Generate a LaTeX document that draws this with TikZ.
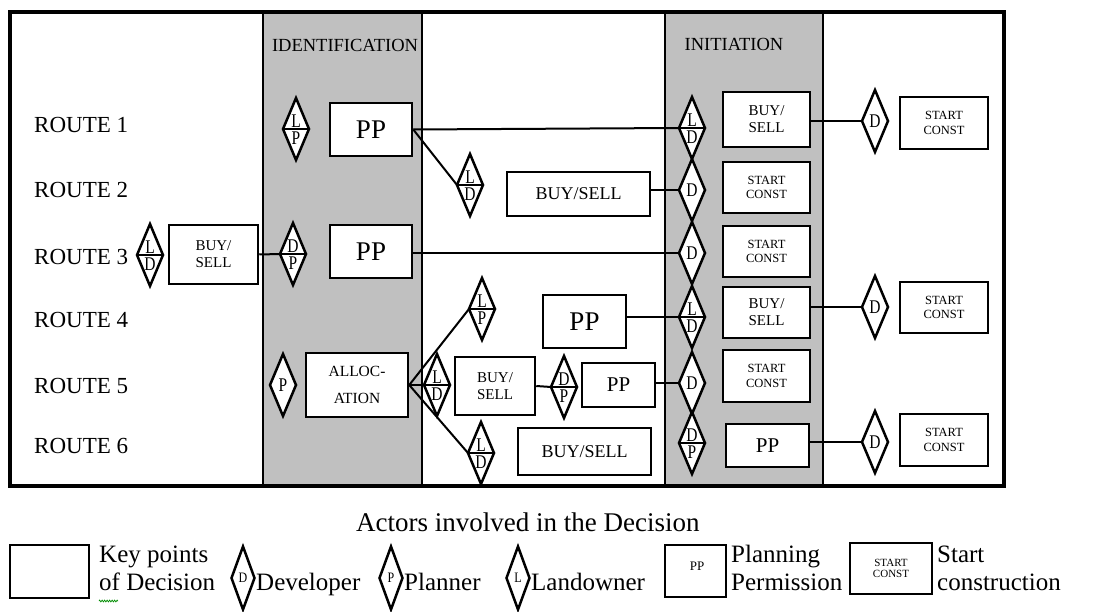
\documentclass[tikz,border=0pt]{standalone}
\usepackage{fontspec}
\setmainfont{Liberation Serif}
\usetikzlibrary{shapes.geometric,decorations.pathmorphing}
\definecolor{colgray}{RGB}{192,192,192}
\pgfdeclarelayer{back}
\pgfdeclarelayer{mid}
\pgfsetlayers{back,mid,main}

\newcommand\fs[2]{\fontsize{#1}{#2}\selectfont}

\tikzset{
  box/.style={draw, line width=2.5pt, fill=white, inner sep=0pt, align=center},
  actor/.style={diamond, draw, line width=2.5pt, fill=white, inner sep=0pt,
    outer sep=0pt, minimum width=26pt, minimum height=62pt},
  letter/.style={inner sep=0pt, font=\fs{15.5}{15.5}},
  link/.style={line width=2pt},
  route/.style={anchor=base west, inner sep=0pt, font=\fs{23}{23}},
  header/.style={inner sep=0pt, font=\fs{18.5}{18.5}},
  legendtext/.style={anchor=base west, inner sep=0pt, font=\fs{25}{28}},
}

% box by its corners: name, x1, y1, x2, y2, font, text
\newcommand\bx[7]{\node[box, minimum width={#4pt-#2pt}, minimum height={#5pt-#3pt},
  font=#6] (#1) at ({(#2+#4)/2},{(#3+#5)/2}) {#7};}
% diamond holding two actors: name, x, y, upper letter, lower letter
\newcommand\actorduo[5]{%
  \node[actor] (#1) at (#2,#3) {};
  \draw[line width=1.5pt] (#1.west) -- (#1.east);
  \node[letter, anchor=south] (#1-t) at ([yshift=1.5pt]#1.center) {\scalebox{1}[1.25]{#4}};
  \node[letter, anchor=north] (#1-b) at ([yshift=-3pt]#1.center) {\scalebox{1}[1.25]{#5}};}
% diamond holding one actor: name, x, y, letter
\newcommand\actorsolo[4]{%
  \node[actor] (#1) at (#2,#3) {};
  \node[letter] (#1-l) at (#1.center) {\scalebox{1}[1.25]{#4}};}

\begin{document}
\begin{tikzpicture}[x=1pt, y=-1pt]
\useasboundingbox (0,0) rectangle (1098,612);

% ---- stage columns and frame ----
\begin{pgfonlayer}{back}
  \fill[colgray] (263,12) rectangle (422,486);
  \fill[colgray] (665,12) rectangle (823,486);
  \foreach \xx in {263,422,665,823}
    \draw[line width=2pt] (\xx,12) -- (\xx,486);
  \draw[line width=3.5pt] (10,12) rectangle (1004,486);
\end{pgfonlayer}

\node[header] (hid) at (345,45) {IDENTIFICATION};
\node[header] (hin) at (734,44) {INITIATION};

% ---- route labels ----
\node[route] (r1) at (34,133) {ROUTE 1};
\node[route] (r2) at (34,198) {ROUTE 2};
\node[route] (r3) at (34,265) {ROUTE 3};
\node[route] (r4) at (34,327) {ROUTE 4};
\node[route] (r5) at (34,393) {ROUTE 5};
\node[route] (r6) at (34,453) {ROUTE 6};

% ---- route 1 ----
\actorduo{dLP1}{296}{129}{L}{P}
\bx{PP1}{330}{103}{412}{156}{\fs{27}{27}}{PP}
\actorduo{dLD1i}{692}{128}{L}{D}
\bx{BS1i}{723}{92}{810}{147}{\fs{15}{17}}{BUY/\\SELL}
\actorsolo{dD1r}{875}{121}{D}
\bx{SC1r}{900}{97}{988}{149}{\fs{12.5}{14.5}}{START\\CONST}

% ---- route 2 ----
\actorduo{dLD2}{470}{185}{L}{D}
\bx{BS2}{507}{172}{650}{216}{\fs{18}{18}}{BUY/SELL}
\actorsolo{dD2i}{692}{190}{D}
\bx{SC2i}{723}{162}{810}{213}{\fs{12.5}{14.5}}{START\\CONST}

% ---- route 3 ----
\actorduo{dLD3}{150}{255}{L}{D}
\bx{BS3}{169}{225}{258}{284}{\fs{15}{17}}{BUY/\\SELL}
\actorduo{dDP3}{293}{254}{D}{P}
\bx{PP3}{330}{225}{412}{278}{\fs{27}{27}}{PP}
\actorsolo{dD3i}{692}{253}{D}
\bx{SC3i}{723}{226}{810}{277}{\fs{12.5}{14.5}}{START\\CONST}

% ---- route 4 ----
\actorduo{dLP4}{482}{309}{L}{P}
\bx{PP4}{543}{295}{626}{348}{\fs{27}{27}}{PP}
\actorduo{dLD4i}{692}{317}{L}{D}
\bx{BS4i}{723}{287}{810}{338}{\fs{15}{17}}{BUY/\\SELL}
\actorsolo{dD4r}{875}{307}{D}
\bx{SC4r}{900}{282}{988}{333}{\fs{12.5}{14.5}}{START\\CONST}

% ---- route 5 ----
\actorsolo{dP5}{283}{385}{P}
\bx{AL5}{306}{353}{408}{417}{\fs{15.5}{27}}{ALLOC-\\ATION}
\actorduo{dLD5}{437}{385}{L}{D}
\bx{BS5}{455}{357}{535}{415}{\fs{15}{17}}{BUY/\\SELL}
\actorduo{dDP5}{564}{387}{D}{P}
\bx{PP5}{582}{363}{655}{407}{\fs{21}{21}}{PP}
\actorsolo{dD5i}{692}{383}{D}
\bx{SC5i}{723}{350}{810}{402}{\fs{12.5}{14.5}}{START\\CONST}

% ---- route 6 ----
\actorduo{dLD6}{481}{453}{L}{D}
\bx{BS6}{518}{428}{651}{475}{\fs{18}{18}}{BUY/SELL}
\actorduo{dDP6i}{692}{443}{D}{P}
\bx{PP6i}{726}{424}{809}{467}{\fs{21}{21}}{PP}
\actorsolo{dD6r}{875}{442}{D}
\bx{SC6r}{900}{414}{988}{466}{\fs{12.5}{14.5}}{START\\CONST}

% ---- connectors ----
\begin{pgfonlayer}{mid}
  \draw[link] (PP1.east) -- (dLD1i.west);
  \draw[link] (PP1.east) -- (dLD2.west);
  \draw[link] (BS1i.east |- dD1r.west) -- (dD1r.west);
  \draw[link] (BS2.east |- dD2i.west) -- (dD2i.west);
  \draw[link] (BS3.east) -- (dDP3.west);
  \draw[link] (PP3.east |- dD3i.west) -- (dD3i.west);
  \draw[link] (PP4.east |- dLD4i.west) -- (dLD4i.west);
  \draw[link] (BS4i.east |- dD4r.west) -- (dD4r.west);
  \draw[link] (AL5.east) -- (dLP4.west);
  \draw[link] (AL5.east) -- (dLD5.west);
  \draw[link] (AL5.east) -- (dLD6.west);
  \draw[link] (BS5.east) -- (dDP5.west);
  \draw[link] (PP5.east |- dD5i.west) -- (dD5i.west);
  \draw[link] (PP6i.east |- dD6r.west) -- (dD6r.west);
\end{pgfonlayer}

% ---- legend ----
\node[anchor=base west, inner sep=0pt, font=\fs{27}{27}] (ttl) at (356,531)
  {Actors involved in the Decision};

\bx{lgKey}{10}{545}{89}{598}{\fs{10}{10}}{}
\node[legendtext] (lgKeyT) at (99,562)
  {\begin{tabular}[t]{@{}l@{}}Key points\\of Decision\end{tabular}};
\draw[green!55!black, line width=0.7pt, decorate,
  decoration={zigzag, segment length=2.5pt, amplitude=0.9pt}]
  (lgKeyT.south west |- 0,601) -- ++(19,0);

\node[actor, minimum width=23pt, minimum height=63pt] (lgD) at (243,578) {};
\node[letter, font=\fs{12}{12}] (lgDl) at (lgD.center) {\scalebox{1}[1.2]{D}};
\node[legendtext] (lgDt) at (256,590) {Developer};

\node[actor, minimum width=23pt, minimum height=63pt] (lgP) at (391,578) {};
\node[letter, font=\fs{12}{12}] (lgPl) at (lgP.center) {\scalebox{1}[1.2]{P}};
\node[legendtext] (lgPt) at (404,590) {Planner};

\node[actor, minimum width=23pt, minimum height=63pt] (lgL) at (518,578) {};
\node[letter, font=\fs{12}{12}] (lgLl) at (lgL.center) {\scalebox{1}[1.2]{L}};
\node[legendtext] (lgLt) at (531,590) {Landowner};

\bx{lgPP}{665}{545}{726}{597}{\fs{10}{10}}{}
\node[inner sep=0pt, anchor=base, font=\fs{13}{13}] (lgPPt) at (697,570) {PP};
\node[legendtext] (lgPPd) at (731,562)
  {\begin{tabular}[t]{@{}l@{}}Planning\\Permission\end{tabular}};

\bx{lgSC}{850}{543}{932}{594}{\fs{11}{11}}{START\\CONST}
\node[legendtext] (lgSCd) at (937,562)
  {\begin{tabular}[t]{@{}l@{}}Start\\construction\end{tabular}};
\end{tikzpicture}
\end{document}
